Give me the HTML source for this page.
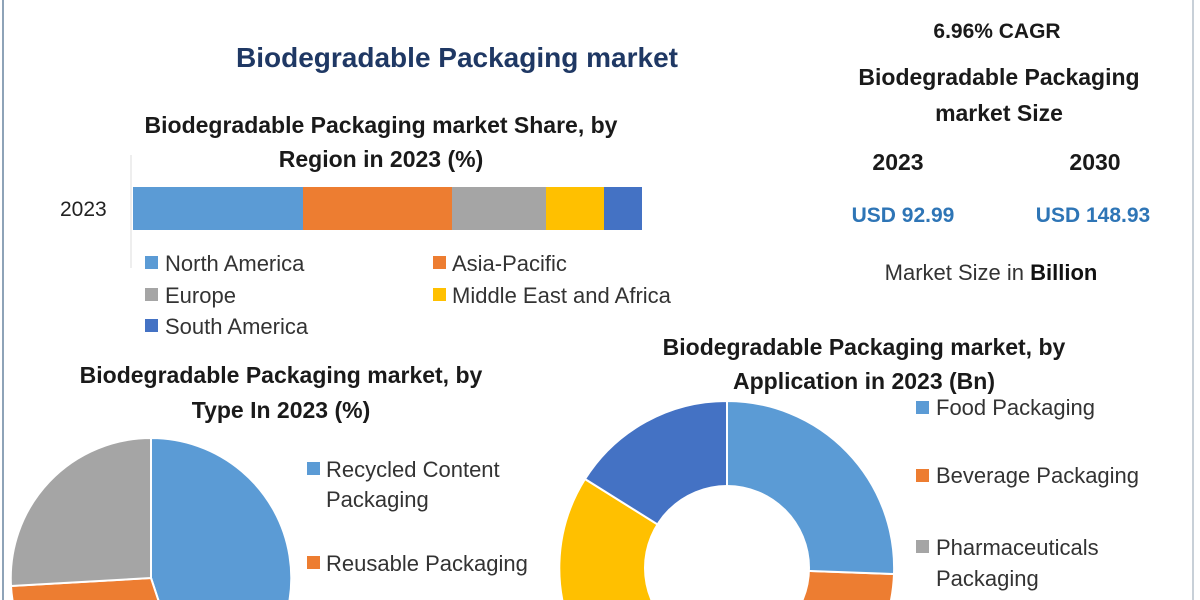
<!DOCTYPE html>
<html><head><meta charset="utf-8"><style>
html,body{margin:0;background:#fff;width:1200px;height:600px;overflow:hidden;}
svg{display:block;font-family:"Liberation Sans",sans-serif;overflow:hidden;}
.b{font-weight:bold;fill:#1a1a1a;}
.l{fill:#333;font-size:22px;}
</style></head><body>
<svg width="1200" height="600" viewBox="0 0 1200 600">
<defs><clipPath id="c"><rect width="1200" height="600"/></clipPath></defs>
<g clip-path="url(#c)">
<rect width="1200" height="600" fill="#fff"/>
<line x1="3" y1="0" x2="3" y2="600" stroke="#8ea3b8" stroke-width="2"/>
<line x1="1193" y1="0" x2="1193" y2="600" stroke="#c8d0d8" stroke-width="2"/>
<text x="457" y="67" text-anchor="middle" font-size="28" font-weight="bold" fill="#1f3864">Biodegradable Packaging market</text>
<text x="381" y="133" text-anchor="middle" font-size="23" class="b">Biodegradable Packaging market Share, by</text>
<text x="381" y="167" text-anchor="middle" font-size="23" class="b">Region in 2023 (%)</text>
<line x1="131" y1="155" x2="131" y2="268" stroke="#ddd" stroke-width="1"/>
<text x="60" y="216" font-size="21" fill="#222">2023</text>
<rect x="133" y="187" width="170" height="43" fill="#5b9bd5"/>
<rect x="303" y="187" width="149" height="43" fill="#ed7d31"/>
<rect x="452" y="187" width="94" height="43" fill="#a5a5a5"/>
<rect x="546" y="187" width="58" height="43" fill="#ffc000"/>
<rect x="604" y="187" width="38" height="43" fill="#4472c4"/>
<rect x="145" y="256" width="13" height="13" fill="#5b9bd5"/><text x="165" y="271" class="l">North America</text>
<rect x="433" y="256" width="13" height="13" fill="#ed7d31"/><text x="452" y="271" class="l">Asia-Pacific</text>
<rect x="145" y="288" width="13" height="13" fill="#a5a5a5"/><text x="165" y="303" class="l">Europe</text>
<rect x="433" y="288" width="13" height="13" fill="#ffc000"/><text x="452" y="303" class="l">Middle East and Africa</text>
<rect x="145" y="319" width="13" height="13" fill="#4472c4"/><text x="165" y="334" class="l">South America</text>
<text x="997" y="38" text-anchor="middle" font-size="21" class="b">6.96% CAGR</text>
<text x="999" y="85" text-anchor="middle" font-size="23" class="b">Biodegradable Packaging</text>
<text x="999" y="121" text-anchor="middle" font-size="23" class="b">market Size</text>
<text x="898" y="170" text-anchor="middle" font-size="23" class="b">2023</text>
<text x="1095" y="170" text-anchor="middle" font-size="23" class="b">2030</text>
<text x="903" y="222" text-anchor="middle" font-size="21" font-weight="bold" fill="#2e75b6">USD 92.99</text>
<text x="1093" y="222" text-anchor="middle" font-size="21" font-weight="bold" fill="#2e75b6">USD 148.93</text>
<text x="991" y="280" text-anchor="middle" font-size="22" fill="#333">Market Size in <tspan font-weight="bold" fill="#111">Billion</tspan></text>
<text x="281" y="383" text-anchor="middle" font-size="23" class="b">Biodegradable Packaging market, by</text>
<text x="281" y="418" text-anchor="middle" font-size="23" class="b">Type In 2023 (%)</text>
<path d="M151,578 L151,438 A140,140 0 0 1 195,711 Z" fill="#5b9bd5" stroke="#fff" stroke-width="2"/>
<path d="M151,578 L195,711 A140,140 0 0 1 11,586 Z" fill="#ed7d31" stroke="#fff" stroke-width="2"/>
<path d="M151,578 L11,586 A140,140 0 0 1 151,438 Z" fill="#a5a5a5" stroke="#fff" stroke-width="2"/>
<rect x="307" y="462" width="13" height="13" fill="#5b9bd5"/><text x="326" y="477" class="l">Recycled Content</text>
<text x="326" y="507" class="l">Packaging</text>
<rect x="307" y="556" width="13" height="13" fill="#ed7d31"/><text x="326" y="571" class="l">Reusable Packaging</text>
<text x="864" y="355" text-anchor="middle" font-size="23" class="b">Biodegradable Packaging market, by</text>
<text x="864" y="389" text-anchor="middle" font-size="23" class="b">Application in 2023 (Bn)</text>
<g stroke="#fff" stroke-width="2">
<path d="M727,568 L585,479 A167,167 0 0 0 727,735 Z" fill="#ffc000"/>
<path d="M727,568 L894,574 A167,167 0 0 1 800,718 Z" fill="#ed7d31"/>
<path d="M727,568 L727,401 A167,167 0 0 1 894,574 Z" fill="#5b9bd5"/>
<path d="M727,568 L727,401 A167,167 0 0 0 585,479 Z" fill="#4472c4"/>
</g>
<circle cx="727" cy="568" r="83" fill="#fff"/>
<rect x="916" y="401" width="13" height="13" fill="#5b9bd5"/><text x="936" y="415" class="l">Food Packaging</text>
<rect x="916" y="469" width="13" height="13" fill="#ed7d31"/><text x="936" y="483" class="l">Beverage Packaging</text>
<rect x="916" y="540" width="13" height="13" fill="#a5a5a5"/><text x="936" y="555" class="l">Pharmaceuticals</text>
<text x="936" y="586" class="l">Packaging</text>
</g>
</svg>
</body></html>
